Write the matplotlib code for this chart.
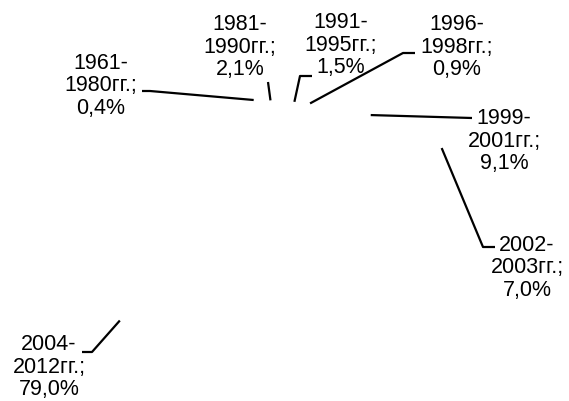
import numpy as np
import matplotlib
matplotlib.use("Agg")
import matplotlib.pyplot as plt

# periods and shares, %
periods = ["1961-\n1980гг.", "1981-\n1990гг.", "1991-\n1995гг.", "1996-\n1998гг.",
           "1999-\n2001гг.", "2002-\n2003гг.", "2004-\n2012гг."]
shares = [0.4, 2.1, 1.5, 0.9, 9.1, 7.0, 79.0]
share_labels = ["0,4%", "2,1%", "1,5%", "0,9%", "9,1%", "7,0%", "79,0%"]

W, H = 569, 401
fig = plt.figure(figsize=(W / 100, H / 100), dpi=100)

# invisible 3d-like pie: ellipse, centre (251, 188) px, half axes 214 x 88 px
cx, cy, a, b = 251, 188, 214, 88
depth = 63  # side wall of the lower half
pie_ax = fig.add_axes([(cx - a) / W, (H - cy - b) / H, 2 * a / W, 2 * b / H])
wedges, _ = pie_ax.pie(shares, startangle=90, counterclock=False,
                       colors=["white"] * len(shares), wedgeprops=dict(linewidth=0))
pie_ax.set_aspect("auto")
pie_ax.set_xlim(-1, 1)
pie_ax.set_ylim(-1, 1)
pie_ax.axis("off")

# overlay in pixel coordinates for labels and leader lines
ax = fig.add_axes([0, 0, 1, 1], zorder=3)
ax.set_xlim(0, W)
ax.set_ylim(H, 0)
ax.axis("off")
ax.patch.set_alpha(0)

# label centres, leader elbows and leader ends (pixels)
label_pos = [(101, 86), (240, 47), (341, 45), (457, 47), (504, 141), (527, 268), (49, 367)]
elbows = [(150, 91), (268, 82), (300, 76), (403, 53), (472, 118), (483, 247), (92, 352)]
ends = [(142, 91), (268, 82), (312, 76), (415, 53), (472, 118), (495, 247), (82, 352)]

for w, per, lab, lp, el, en in zip(wedges, periods, share_labels, label_pos, elbows, ends):
    mid = np.deg2rad((w.theta1 + w.theta2) / 2)
    px = cx + a * np.cos(mid)
    py = cy - b * np.sin(mid)
    if np.sin(mid) < 0:
        py += depth
    ax.plot([px, el[0], en[0]], [py, el[1], en[1]], color="black", lw=1.6,
            solid_capstyle="butt")
    ax.text(lp[0], lp[1], per + ";\n" + lab, ha="center", va="center",
            fontsize=15.5, family="Liberation Sans", linespacing=1.12)

fig.savefig("out.png", dpi=100)
